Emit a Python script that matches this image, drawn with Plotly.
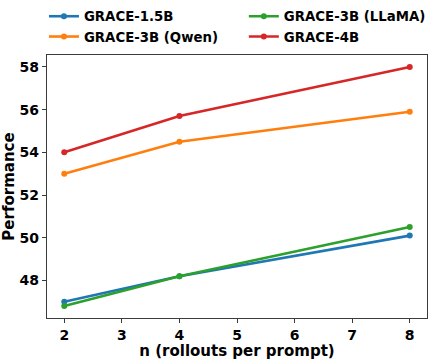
import plotly.graph_objects as go

x_vals = [2, 4, 8]
series_names = ["GRACE-1.5B", "GRACE-3B (Qwen)", "GRACE-3B (LLaMA)", "GRACE-4B"]
grace_15b = [47.0, 48.2, 50.1]
grace_3b_qwen = [53.0, 54.5, 55.9]
grace_3b_llama = [46.8, 48.2, 50.5]
grace_4b = [54.0, 55.7, 58.0]
x_ticks = [2, 3, 4, 5, 6, 7, 8]
y_ticks = [48, 50, 52, 54, 56, 58]

colors = ["#1f77b4", "#ff7f0e", "#2ca02c", "#d62728"]
legend_ids = ["legend", "legend", "legend2", "legend2"]
values = [grace_15b, grace_3b_qwen, grace_3b_llama, grace_4b]

FONT = "DejaVu Sans"
fig = go.Figure()
for name, vals, c, lg in zip(series_names, values, colors, legend_ids):
    fig.add_trace(go.Scatter(
        x=x_vals, y=vals, name=name, mode="lines+markers",
        line=dict(color=c, width=2.6),
        marker=dict(color=c, size=6, symbol="circle"),
        legend=lg,
    ))

legend_common = dict(
    font=dict(family=FONT, size=13.3, color="black", weight="bold"),
    bgcolor="rgba(0,0,0,0)", borderwidth=0, orientation="v",
    yanchor="top", yref="paper", xref="paper", xanchor="left",
    tracegroupgap=0, itemwidth=30,
)
fig.update_layout(
    width=438, height=360,
    margin=dict(l=47, r=11, t=55, b=42, autoexpand=False),
    paper_bgcolor="white", plot_bgcolor="white",
    font=dict(family=FONT, color="black"),
    showlegend=True,
    legend=dict(x=-0.008, y=1.205, **legend_common),
    legend2=dict(x=0.518, y=1.205, **legend_common),
)
axis_common = dict(
    showgrid=False, zeroline=False, showline=True, mirror=True,
    linecolor="#3a3a3a", linewidth=1.2, ticks="outside", ticklen=4,
    tickcolor="#3a3a3a", tickwidth=1, automargin=False,
    tickfont=dict(family=FONT, size=14, color="black", weight="bold"),
)
fig.update_xaxes(range=[1.7, 8.3], tickvals=x_ticks,
                 title=dict(text="n (rollouts per prompt)", standoff=4,
                            font=dict(family=FONT, size=15, color="black", weight="bold")),
                 **axis_common)
fig.update_yaxes(range=[46.24, 58.56], tickvals=y_ticks,
                 title=dict(text="Performance", standoff=6,
                            font=dict(family=FONT, size=15, color="black", weight="bold")),
                 **axis_common)

fig.write_html("out.html", config={"displayModeBar": False},
               post_script="document.body.style.margin='0';")
